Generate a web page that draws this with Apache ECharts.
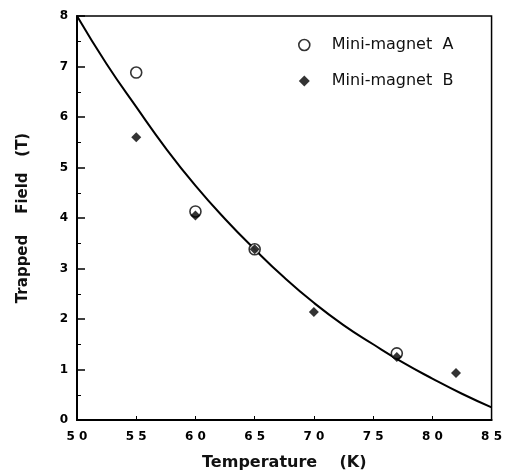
<!DOCTYPE html>
<html>
<head>
<meta charset="utf-8">
<script src="https://cdn.jsdelivr.net/npm/echarts@6/dist/echarts.min.js"></script>
<style>
html,body{margin:0;padding:0;background:#fff;}
#chart{width:505px;height:476px;}
</style>
</head>
<body>
<div id="chart"></div>
<script>
// measured points
var tempA = [55, 60, 65, 77];
var fieldA = [6.88, 4.13, 3.38, 1.32];
var tempB = [55, 60, 65, 70, 77, 82];
var fieldB = [5.6, 4.05, 3.38, 2.14, 1.25, 0.93];
// fitted curve
var fitT = [50, 52.5, 55, 57.5, 60, 62.5, 65, 67.5, 70, 72.5, 75, 77.5, 80, 82.5, 85];
var fitB = [8.0, 7.05, 6.2, 5.38, 4.64, 3.98, 3.38, 2.82, 2.32, 1.88, 1.5, 1.14, 0.82, 0.52, 0.25];

function pairs(xs, ys) {
    var out = [];
    for (var i = 0; i < xs.length; i++) out.push([xs[i], ys[i]]);
    return out;
}

var chart = echarts.init(document.getElementById('chart'));
var font = 'DejaVu Sans, sans-serif';
var option = {
    animation: false,
    grid: {left: 77, right: 13, top: 16, bottom: 56, show: true, borderColor: '#000', borderWidth: 1.5},
    legend: {
        orient: 'vertical', left: 293, top: 32, itemGap: 20, itemWidth: 11, itemHeight: 11,
        textStyle: {fontFamily: font, fontSize: 16, color: '#111', padding: [0, 0, 0, 17]},
        data: [
            {name: 'Mini-magnet  A', icon: 'circle', itemStyle: {color: '#fff', borderColor: '#000', borderWidth: 1.6}},
            {name: 'Mini-magnet  B', icon: 'diamond', itemStyle: {color: '#000'}}
        ]
    },
    xAxis: {
        type: 'value', min: 50, max: 85, interval: 5,
        name: 'Temperature    (K)', nameLocation: 'middle', nameGap: 35,
        nameTextStyle: {fontFamily: font, fontSize: 16, fontWeight: 'bold', color: '#111'},
        axisLine: {lineStyle: {color: '#000', width: 2}},
        axisTick: {inside: true, length: 4, lineStyle: {color: '#000'}},
        axisLabel: {fontFamily: font, fontSize: 12, fontWeight: 'bold', color: '#000', margin: 11,
            formatter: function (v) { return String(v).split('').join(' '); }},
        splitLine: {show: false}
    },
    yAxis: {
        type: 'value', min: 0, max: 8, interval: 1,
        name: 'Trapped    Field   (T)', nameLocation: 'middle', nameGap: 46,
        nameTextStyle: {fontFamily: font, fontSize: 15, fontWeight: 'bold', color: '#111'},
        axisLine: {lineStyle: {color: '#000', width: 2}},
        axisTick: {inside: true, length: 8, lineStyle: {color: '#000', width: 1.5}},
        minorTick: {show: true, splitNumber: 2, length: 4, lineStyle: {color: '#000'}},
        axisLabel: {fontFamily: font, fontSize: 12, fontWeight: 'bold', color: '#000', margin: 9},
        splitLine: {show: false}
    },
    series: [
        {
            name: 'fit', type: 'line', smooth: true, showSymbol: false,
            lineStyle: {color: '#000', width: 2}, data: pairs(fitT, fitB), z: 1
        },
        {
            name: 'Mini-magnet  A', type: 'scatter', symbol: 'circle', symbolSize: 11,
            itemStyle: {color: '#fff', borderColor: '#000', borderWidth: 1.6}, data: pairs(tempA, fieldA), z: 2
        },
        {
            name: 'Mini-magnet  B', type: 'scatter', symbol: 'diamond', symbolSize: 10,
            itemStyle: {color: '#000'}, data: pairs(tempB, fieldB), z: 3
        }
    ]
};
chart.setOption(option);
</script>
</body>
</html>
